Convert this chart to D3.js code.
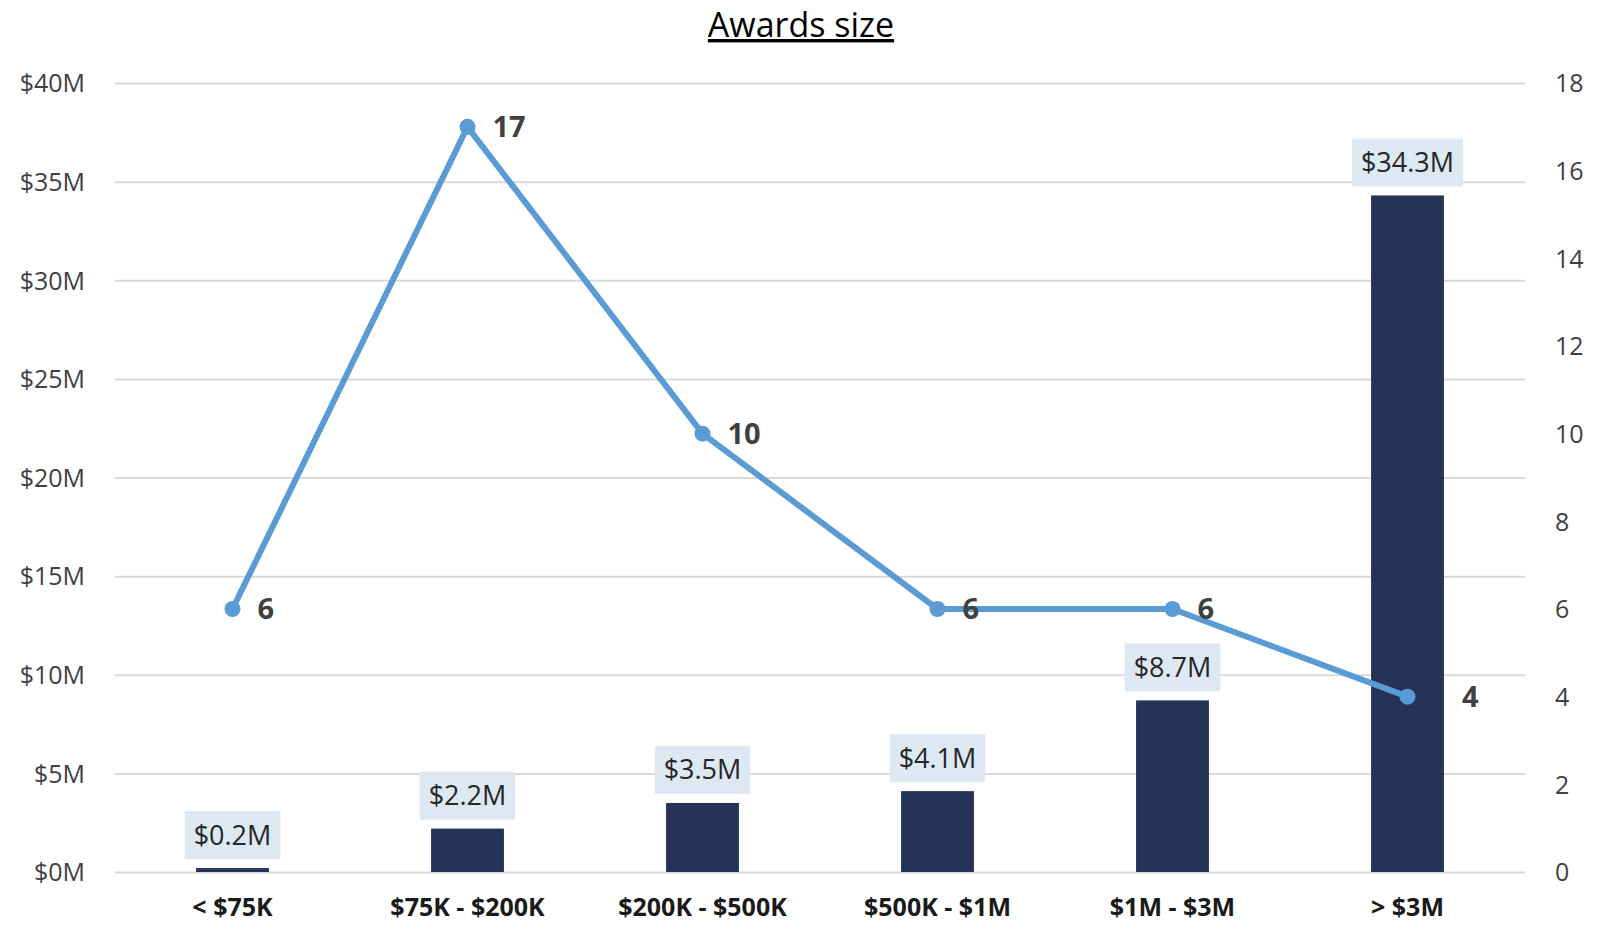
<!DOCTYPE html>
<html>
<head>
<meta charset="utf-8">
<script src="https://cdn.jsdelivr.net/npm/d3@7"></script>
<style>
  body { margin: 0; background: #fff; }
  svg text { font-family: "Open Sans", sans-serif; }
  .grid line { stroke: #d9d9d9; stroke-width: 2; }
  .grid path { display: none; }
  .axis path, .axis line { display: none; }
  .axis text { fill: #404040; font-size: 25px; }
  .axis-x text { fill: #1a1a1a; font-size: 25px; font-weight: bold; }
</style>
</head>
<body>
<svg id="chart" width="1600" height="925"></svg>
<script>
// datos
const categories = ['< $75K', '$75K - $200K', '$200K - $500K', '$500K - $1M', '$1M - $3M', '> $3M'];
const amounts = [0.2, 2.2, 3.5, 4.1, 8.7, 34.3];   // $M
const counts = [6, 17, 10, 6, 6, 4];
const leftTicks = [0, 5, 10, 15, 20, 25, 30, 35, 40];
const rightTicks = [0, 2, 4, 6, 8, 10, 12, 14, 16, 18];

const margin = { top: 83, right: 75, bottom: 53, left: 115 };
const W = 1600, H = 925;
const width = W - margin.left - margin.right;
const height = H - margin.top - margin.bottom;

const svg = d3.select('#chart');
const g = svg.append('g').attr('transform', `translate(${margin.left},${margin.top})`);

const x = d3.scaleBand().domain(categories).range([0, width]).paddingInner(0.69).paddingOuter(0.345);
const yL = d3.scaleLinear().domain([0, 40]).range([height, 0]);
const yR = d3.scaleLinear().domain([0, 18]).range([height, 0]);
const cx = d => x(d) + x.bandwidth() / 2;

// titulo
svg.append('text')
  .attr('x', 801).attr('y', 37)
  .attr('text-anchor', 'middle')
  .style('font-size', '34px')
  .style('fill', '#000')
  .style('text-decoration', 'underline')
  .text('Awards size');

// rejilla
g.append('g').attr('class', 'grid')
  .call(d3.axisLeft(yL).tickValues(leftTicks).tickSize(-width).tickFormat(''));

// ejes
g.append('g').attr('class', 'axis axis-left')
  .attr('transform', 'translate(-27,0)')
  .call(d3.axisLeft(yL).tickValues(leftTicks).tickSize(0).tickFormat(d => `$${d}M`))
  .selectAll('text').attr('dy', '0.35em');

g.append('g').attr('class', 'axis axis-right')
  .attr('transform', `translate(${width + 27},0)`)
  .call(d3.axisRight(yR).tickValues(rightTicks).tickSize(0))
  .selectAll('text').attr('dy', '0.35em');

g.append('g').attr('class', 'axis axis-x')
  .attr('transform', `translate(0,${height})`)
  .call(d3.axisBottom(x).tickSize(0).tickPadding(26));

// barras
const rows = categories.map((c, i) => ({ cat: c, amt: amounts[i], n: counts[i] }));

g.selectAll('.bar').data(rows).enter().append('rect')
  .attr('class', 'bar')
  .attr('x', d => x(d.cat))
  .attr('y', d => yL(d.amt))
  .attr('width', x.bandwidth())
  .attr('height', d => height - yL(d.amt))
  .attr('fill', '#253356');

// etiquetas de barras con fondo
const lab = g.selectAll('.bar-label').data(rows).enter().append('g').attr('class', 'bar-label');
lab.append('rect').attr('fill', '#dee8f3');
lab.append('text')
  .attr('x', d => cx(d.cat))
  .attr('y', d => yL(d.amt) - 33)
  .attr('text-anchor', 'middle')
  .attr('dy', '0.35em')
  .style('font-size', '27px')
  .style('fill', '#262626')
  .text(d => `$${d.amt.toFixed(1)}M`);
lab.each(function (d) {
  const t = d3.select(this).select('text').node().getBBox();
  d3.select(this).select('rect')
    .attr('x', t.x - 9).attr('y', yL(d.amt) - 33 - 24)
    .attr('width', t.width + 18).attr('height', 48);
});

// linea
const line = d3.line().x(d => cx(d.cat)).y(d => yR(d.n));
g.append('path').datum(rows)
  .attr('d', line)
  .attr('fill', 'none')
  .attr('stroke', '#5b9bd5')
  .attr('stroke-width', 6)
  .attr('stroke-linejoin', 'round');

g.selectAll('.dot').data(rows).enter().append('circle')
  .attr('cx', d => cx(d.cat))
  .attr('cy', d => yR(d.n))
  .attr('r', 8)
  .attr('fill', '#5b9bd5');

// etiquetas de la linea (si tapan la barra se mueven a la derecha)
g.selectAll('.n-label').data(rows).enter().append('text')
  .attr('x', d => yR(d.n) > yL(d.amt) ? x(d.cat) + x.bandwidth() + 18 : cx(d.cat) + 25)
  .attr('y', d => yR(d.n))
  .attr('dy', '0.35em')
  .style('font-size', '29px')
  .style('font-weight', 'bold')
  .style('fill', '#404040')
  .text(d => d.n);
</script>
</body>
</html>
